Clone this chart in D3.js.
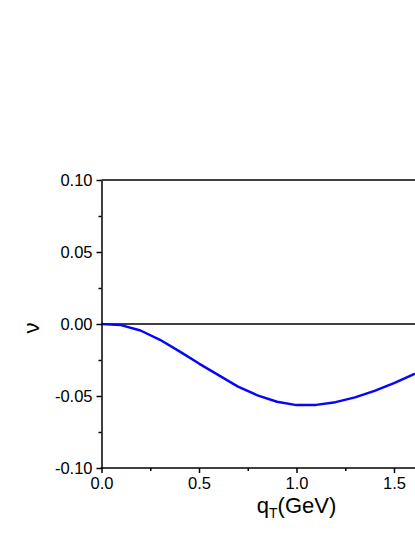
<!DOCTYPE html>
<html><head><meta charset="utf-8">
<script src="https://cdn.jsdelivr.net/npm/d3@7"></script>
<style>body{margin:0;background:#fff}svg{display:block}</style>
</head><body>
<svg id="c" width="415" height="537"></svg>
<script>
const qT = [0,0.1,0.2,0.3,0.4,0.5,0.6,0.7,0.8,0.9,1.0,1.1,1.2,1.3,1.4,1.5,1.6,1.7];
const nu = [0,-0.0008,-0.0045,-0.011,-0.019,-0.0275,-0.0355,-0.0435,-0.0495,-0.0540,-0.0563,-0.0562,-0.0543,-0.051,-0.0465,-0.041,-0.035,-0.029];
const xTicks = [0.0,0.5,1.0,1.5];
const xMinor = [0.25,0.75,1.25,1.75];
const yTicks = [-0.10,-0.05,0.00,0.05,0.10];
const yMinor = [-0.075,-0.025,0.025,0.075];

const svg = d3.select('#c');
const x = d3.scaleLinear().domain([0,2]).range([101.5,491.5]);
const y = d3.scaleLinear().domain([-0.10,0.10]).range([468,180]);
const font = 'Liberation Sans, Arial, sans-serif';
const fmt = d => d3.format('.1f')(d).replace('\u2212','-');
const fmtY = d => d3.format('.2f')(d).replace('\u2212','-');

svg.append('line').attr('x1',x(0)).attr('x2',x(2)).attr('y1',y(0)).attr('y2',y(0)).attr('stroke','#000').attr('stroke-width',1.5);
svg.append('line').attr('x1',x(0)).attr('x2',x(2)).attr('y1',y(0.10)).attr('y2',y(0.10)).attr('stroke','#000').attr('stroke-width',1.5);

svg.append('path').datum(qT.map((q,i)=>[q,nu[i]]))
  .attr('d', d3.line().x(d=>x(d[0])).y(d=>y(d[1])))
  .attr('fill','none').attr('stroke','#0505ff').attr('stroke-width',2.4).attr('stroke-linejoin','round');

const xa = svg.append('g').attr('transform',`translate(0,${y(-0.10)})`)
  .call(d3.axisBottom(x).tickValues(xTicks).tickFormat(fmt).tickSizeInner(5).tickSizeOuter(0).tickPadding(4));
const xm = svg.append('g').attr('transform',`translate(0,${y(-0.10)})`)
  .call(d3.axisBottom(x).tickValues(xMinor).tickFormat('').tickSizeInner(3).tickSizeOuter(0));
xm.select('.domain').remove();
const ya = svg.append('g').attr('transform',`translate(${x(0)},0)`)
  .call(d3.axisLeft(y).tickValues(yTicks).tickFormat(fmtY).tickSizeInner(5).tickSizeOuter(0).tickPadding(4));
const ym = svg.append('g').attr('transform',`translate(${x(0)},0)`)
  .call(d3.axisLeft(y).tickValues(yMinor).tickFormat('').tickSizeInner(3).tickSizeOuter(0));
ym.select('.domain').remove();
svg.selectAll('.domain').attr('stroke-width',1.5);
svg.selectAll('.tick line').attr('stroke-width',1.5);
svg.selectAll('.tick text').attr('font-family',font).attr('font-size',16.5).attr('fill','#000');
xa.select('.domain').attr('d',`M${x(0)-0.75},0H${x(2)}`);

const xt = svg.append('text').attr('x',x(1.0)).attr('y',513).attr('text-anchor','middle')
  .attr('font-family',font).attr('font-size',22);
xt.append('tspan').text('q');
xt.append('tspan').attr('font-size',14).attr('dy',5).text('T');
xt.append('tspan').attr('dy',-5).text('(GeV)');

svg.append('text').attr('transform','translate(39,328) rotate(-90)').attr('text-anchor','middle')
  .attr('font-family',font).attr('font-size',22).text('ν');
</script>
</body></html>
